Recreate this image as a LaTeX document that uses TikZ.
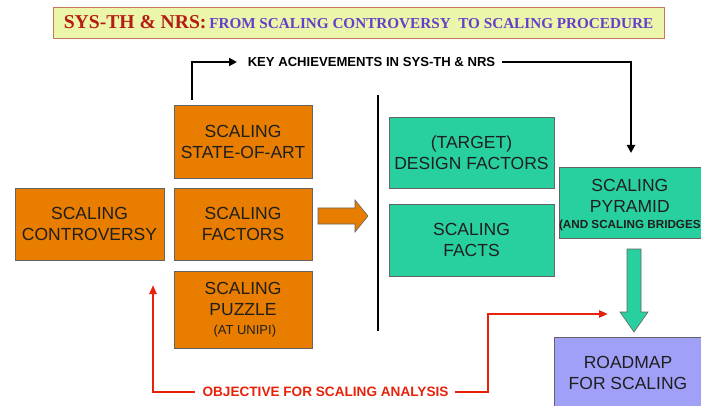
\documentclass[tikz,border=0pt]{standalone}
\usepackage{fontspec}
\setmainfont{Liberation Sans}
\newfontfamily\titlefont{Liberation Serif}
\usetikzlibrary{arrows.meta}
\definecolor{orangebox}{RGB}{232,125,0}
\definecolor{tealbox}{RGB}{40,208,160}
\definecolor{lavbox}{RGB}{160,160,248}
\definecolor{boxborder}{RGB}{100,100,100}
\definecolor{titlefill}{RGB}{236,246,170}
\definecolor{titleborder}{RGB}{200,120,90}
\definecolor{titlered}{RGB}{180,28,20}
\definecolor{titleblue}{RGB}{100,64,200}
\definecolor{redline}{RGB}{230,35,10}
\begin{document}
\begin{tikzpicture}[x=1pt,y=-1pt,
 box/.style={draw=boxborder, line width=0.8pt, align=center, inner sep=0pt, font=\fontsize{17.5}{21}\selectfont, text=black!88},
 obox/.style={box, fill=orangebox},
 tbox/.style={box, fill=tealbox},
 lbox/.style={box, fill=lavbox},
 blk/.style={line width=2.3pt, black},
 rdl/.style={line width=2.3pt, redline},
 tipk/.style={-{Triangle[length=8pt,width=8pt]}},
 tipr/.style={-{Triangle[length=9pt,width=7pt]}},
 blockarrow/.style={draw=boxborder, line width=0.6pt},
]
\useasboundingbox (0,0) rectangle (701,406);
\clip (0,0) rectangle (701,406);

% title
\node[draw=titleborder, fill=titlefill, line width=0.8pt, minimum width=611pt, minimum height=31pt, inner sep=0pt] (title) at (358.5,22.5)
 {{\titlefont\bfseries\color{titlered}\fontsize{19.6}{22}\selectfont SYS-TH \& NRS:} {\titlefont\bfseries\color{titleblue}\fontsize{15.2}{18}\selectfont FROM SCALING CONTROVERSY\ \ TO SCALING PROCEDURE}};

% orange boxes
\node[obox, minimum width=149pt, minimum height=72pt] (contr) at (89.5,224) {SCALING\\CONTROVERSY};
\node[obox, minimum width=138pt, minimum height=73pt] (soa) at (243,141.5) {SCALING\\STATE-OF-ART};
\node[obox, minimum width=138pt, minimum height=72pt] (fact) at (243,224) {SCALING\\FACTORS};
\node[obox, minimum width=138pt, minimum height=77pt] (puzz) at (243,309.5) {SCALING\\PUZZLE\\[-2.5pt]{\fontsize{13}{15}\selectfont\ (AT UNIPI)}};

% teal boxes
\node[tbox, minimum width=165pt, minimum height=71pt] (target) at (471.5,152.5) {(TARGET)\\DESIGN FACTORS};
\node[tbox, minimum width=165pt, minimum height=72pt] (facts) at (471.5,240) {SCALING\\FACTS};
\node[tbox, minimum width=146pt, minimum height=71pt] (pyr) at (632,202.5) {};
\node[box, draw=none, anchor=west] (pyrtext) at ([yshift=-2.5pt]pyr.west) {SCALING\\PYRAMID\\[-4.5pt]{\bfseries\fontsize{11.7}{13}\selectfont (AND SCALING BRIDGES}};

% roadmap
\node[lbox, minimum width=148pt, minimum height=72pt] (road) at (628,373) {ROADMAP\\FOR SCALING};

% block arrows
\filldraw[blockarrow, fill=orangebox] (318,208) -- (355,208) -- (355,200) -- (368,216) -- (355,232) -- (355,224) -- (318,224) -- cycle;
\filldraw[blockarrow, fill=tealbox] (627,249) -- (641,249) -- (641,312) -- (648,312) -- (634,332) -- (620,312) -- (627,312) -- cycle;

% separator
\coordinate (septop) at (378,95);
\coordinate (sepbot) at (378,331);
\draw[blk] (septop) -- (sepbot);

% key achievements
\node[font=\bfseries\fontsize{13.1}{15}\selectfont, inner sep=0pt] (key) at (371.5,62) {KEY ACHIEVEMENTS IN SYS-TH \& NRS};
\coordinate (kstart) at (192,100);
\coordinate (ktip) at (237,62);
\coordinate (kout) at (502,62);
\coordinate (kturn) at (631,62);
\coordinate (pyrtip) at (631,153);
\draw[blk, tipk] (kstart) |- (ktip);
\draw[blk, tipk] (kout) -- (kturn) -- (pyrtip);

% objective
\node[font=\bfseries\fontsize{13.6}{15}\selectfont, text=redline, inner sep=0pt] (obj) at (325.5,392) {OBJECTIVE FOR SCALING ANALYSIS};
\coordinate (oleft) at (195,392);
\coordinate (oltip) at (153,285);
\coordinate (oright) at (455,392);
\coordinate (orbend) at (488,314);
\coordinate (ortip) at (608,314);
\draw[rdl, tipr] (oleft) -| (oltip);
\draw[rdl, tipr] (oright) -| (orbend) -- (ortip);
\end{tikzpicture}
\end{document}
